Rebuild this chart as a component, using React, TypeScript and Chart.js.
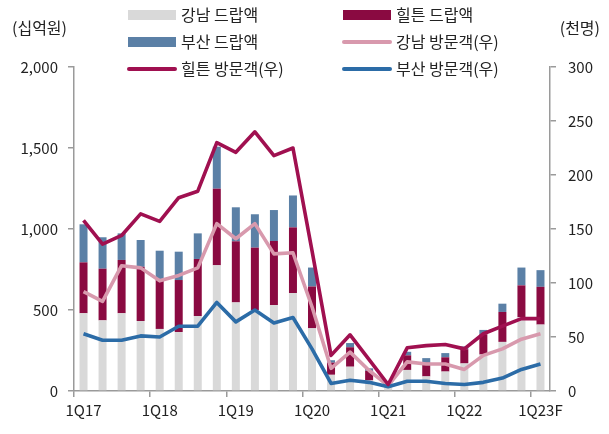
import React, { useEffect, useRef } from "react";
import { Chart, registerables } from "chart.js";

Chart.register(...registerables);

const categories = [
  "1Q17", "2Q17", "3Q17", "4Q17",
  "1Q18", "2Q18", "3Q18", "4Q18",
  "1Q19", "2Q19", "3Q19", "4Q19",
  "1Q20", "2Q20", "3Q20", "4Q20",
  "1Q21", "2Q21", "3Q21", "4Q21",
  "1Q22", "2Q22", "3Q22", "4Q22",
  "1Q23F",
];

const gangnamDrop = [480, 436, 480, 432, 383, 364, 463, 776, 547, 500, 531, 605, 387, 100, 150, 65, 35, 130, 90, 120, 170, 225, 303, 455, 410];
const hiltonDrop = [314, 319, 329, 335, 308, 321, 352, 473, 377, 385, 395, 405, 258, 75, 120, 60, 10, 90, 85, 88, 88, 125, 185, 197, 233];
const busanDrop = [235, 194, 164, 165, 175, 175, 158, 259, 210, 206, 191, 197, 117, 15, 26, 15, 10, 22, 28, 26, 17, 27, 51, 110, 103];

const gangnamVisitors = [92, 83, 116, 114, 102, 107, 114, 155, 141, 155, 127, 128, 78, 21, 36, 19, 5, 27, 25, 25, 20, 33, 39, 48, 53];
const hiltonVisitors = [158, 136, 144, 164, 157, 179, 185, 230, 221, 240, 218, 225, 130, 33, 52, 29, 6, 40, 42, 43, 39, 53, 60, 67, 67];
const busanVisitors = [53, 47, 47, 51, 50, 60, 60, 82, 64, 75, 63, 68, 39, 7, 10, 8, 4, 9, 9, 7, 6, 8, 12, 20, 25];

const leftTicks = [0, 500, 1000, 1500, 2000];
const rightTicks = [0, 50, 100, 150, 200, 250, 300];

const FONT = "'Noto Sans CJK KR', 'Noto Sans', sans-serif";
const TEXT = "#222222";
const AXIS = "#9a9a9a";

const C_GRAY = "#d9d9d9";
const C_HILTON_BAR = "#8a0a41";
const C_BUSAN_BAR = "#5b80a6";
const C_PINK = "#d899ad";
const C_HILTON_LINE = "#a01050";
const C_BLUE_LINE = "#2c6ca7";

const legendPlugin = {
  id: "customLegend",
  afterDraw(chart: any) {
    const ctx = chart.ctx;
    const ds = chart.data.datasets;
    ctx.save();
    ctx.font = `16px ${FONT}`;
    ctx.fillStyle = TEXT;
    ctx.textBaseline = "middle";
    ctx.textAlign = "left";
    ctx.fillText("(십억원)", 12, 28);
    ctx.textAlign = "right";
    ctx.fillText("(천명)", 600, 28);

    const items = [
      { i: 0, col: 0, row: 0, type: "box" },
      { i: 1, col: 1, row: 0, type: "box" },
      { i: 2, col: 0, row: 1, type: "box" },
      { i: 3, col: 1, row: 1, type: "line" },
      { i: 4, col: 0, row: 2, type: "line" },
      { i: 5, col: 1, row: 2, type: "line" },
    ];
    const colX = [128, 343];
    const rowY = [15, 42, 69];
    ctx.textAlign = "left";
    for (const it of items) {
      const d = ds[it.i];
      const x = colX[it.col];
      const y = rowY[it.row];
      if (it.type === "box") {
        ctx.fillStyle = d.backgroundColor;
        ctx.fillRect(x, y - 5, 48, 10);
      } else {
        ctx.strokeStyle = d.borderColor;
        ctx.lineWidth = 4;
        ctx.lineCap = "round";
        ctx.beginPath();
        ctx.moveTo(x + 1, y);
        ctx.lineTo(x + 47, y);
        ctx.stroke();
      }
      ctx.fillStyle = TEXT;
      ctx.fillText(d.label, x + 53, y);
    }
    ctx.restore();
  },
};

export default function App() {
  const ref = useRef<HTMLCanvasElement | null>(null);

  useEffect(() => {
    if (!ref.current) return;
    const chart = new Chart(ref.current, {
      type: "bar",
      data: {
        labels: categories,
        datasets: [
          { type: "bar", label: "강남 드랍액", data: gangnamDrop, backgroundColor: C_GRAY, yAxisID: "y", order: 3, stack: "s" },
          { type: "bar", label: "힐튼 드랍액", data: hiltonDrop, backgroundColor: C_HILTON_BAR, yAxisID: "y", order: 3, stack: "s" },
          { type: "bar", label: "부산 드랍액", data: busanDrop, backgroundColor: C_BUSAN_BAR, yAxisID: "y", order: 3, stack: "s" },
          { type: "line", label: "강남 방문객(우)", data: gangnamVisitors, borderColor: C_PINK, backgroundColor: C_PINK, yAxisID: "y1", order: 2, borderWidth: 3.6, pointRadius: 0, tension: 0, borderJoinStyle: "round" },
          { type: "line", label: "힐튼 방문객(우)", data: hiltonVisitors, borderColor: C_HILTON_LINE, backgroundColor: C_HILTON_LINE, yAxisID: "y1", order: 0, borderWidth: 3.6, pointRadius: 0, tension: 0, borderJoinStyle: "round" },
          { type: "line", label: "부산 방문객(우)", data: busanVisitors, borderColor: C_BLUE_LINE, backgroundColor: C_BLUE_LINE, yAxisID: "y1", order: 1, borderWidth: 3.6, pointRadius: 0, tension: 0, borderJoinStyle: "round" },
        ] as any,
      },
      options: {
        animation: false,
        responsive: false,
        devicePixelRatio: 1,
        layout: { padding: { top: 67, left: 0, right: 0, bottom: 0 } },
        datasets: { bar: { barPercentage: 0.42, categoryPercentage: 1 } },
        plugins: { legend: { display: false }, tooltip: { enabled: false } },
        scales: {
          x: {
            stacked: true,
            offset: true,
            afterFit: (s: any) => { s.height = 43; },
            grid: {
              offset: true,
              drawOnChartArea: false,
              tickLength: 6,
              color: (c: any) => (typeof c.index === "number" && c.index % 4 === 0 ? AXIS : "rgba(0,0,0,0)"),
              lineWidth: 1.5,
            },
            border: { display: true, color: AXIS, width: 1.5 },
            ticks: {
              autoSkip: false,
              maxRotation: 0,
              padding: 4,
              color: TEXT,
              font: { family: FONT, size: 15 },
              callback: (_v: any, i: number) => (i % 4 === 0 ? categories[i] : ""),
            },
          },
          y: {
            position: "left",
            stacked: true,
            min: 0,
            max: 2000,
            afterFit: (s: any) => { s.width = 74; },
            afterBuildTicks: (s: any) => { s.ticks = leftTicks.map((v) => ({ value: v })); },
            grid: { drawOnChartArea: false, tickLength: 6, color: AXIS, lineWidth: 1.5 },
            border: { display: true, color: AXIS, width: 1.5 },
            ticks: {
              padding: 10,
              color: TEXT,
              font: { family: FONT, size: 15 },
              callback: (v: any) => Number(v).toLocaleString("en-US"),
            },
          },
          y1: {
            position: "right",
            min: 0,
            max: 300,
            afterFit: (s: any) => { s.width = 59; },
            afterBuildTicks: (s: any) => { s.ticks = rightTicks.map((v) => ({ value: v })); },
            grid: { drawOnChartArea: false, tickLength: 6, color: AXIS, lineWidth: 1.5 },
            border: { display: true, color: AXIS, width: 1.5 },
            ticks: {
              padding: 12,
              color: TEXT,
              font: { family: FONT, size: 15 },
              callback: (v: any) => String(v),
            },
          },
        },
      } as any,
      plugins: [legendPlugin],
    });
    return () => chart.destroy();
  }, []);

  return (
    <div style={{ position: "fixed", left: 0, top: 0, width: 609, height: 434, background: "#ffffff" }}>
      <canvas ref={ref} width={609} height={434} style={{ width: 609, height: 434, display: "block" }} />
    </div>
  );
}
